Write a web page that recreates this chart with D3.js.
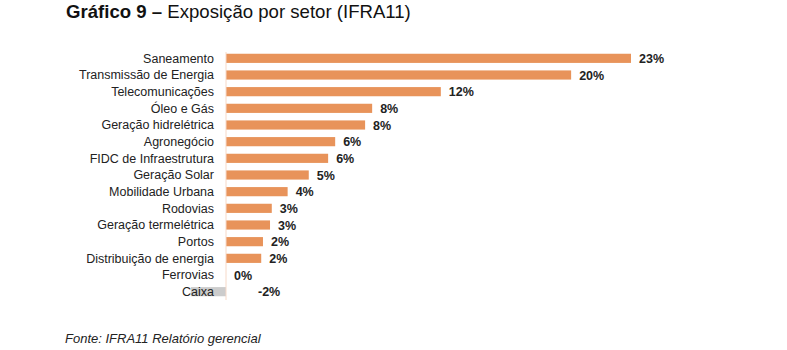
<!DOCTYPE html>
<html>
<head>
<meta charset="utf-8">
<script src="https://cdn.jsdelivr.net/npm/d3@7"></script>
<style>
  body { margin: 0; background: #fff; }
  text { font-family: "Liberation Sans", Arial, sans-serif; }
</style>
</head>
<body>
<div id="container"></div>
<script>
let w = 787;
let h = 350;

// DATA
let sectors = ["Saneamento", "Transmissão de Energia", "Telecomunicações", "Óleo e Gás",
  "Geração hidrelétrica", "Agronegócio", "FIDC de Infraestrutura", "Geração Solar",
  "Mobilidade Urbana", "Rodovias", "Geração termelétrica", "Portos",
  "Distribuição de energia", "Ferrovias", "Caixa"];
let shares = [23.0, 19.6, 12.2, 8.3, 7.9, 6.2, 5.8, 4.7, 3.5, 2.6, 2.5, 2.1, 2.0, 0.0, -2.0];
let shareLabels = ["23%", "20%", "12%", "8%", "8%", "6%", "6%", "5%", "4%", "3%", "3%", "2%", "2%", "0%", "-2%"];

let rows = sectors.map(function(s, i){
  return {sector: s, value: shares[i], label: shareLabels[i]};
});

// SVG
let viz = d3.select("#container").append("svg")
    .attr("width", w)
    .attr("height", h)
;

// title
let title = viz.append("text")
    .attr("x", 66)
    .attr("y", 18)
    .style("font-size", "18.6px")
    .attr("fill", "#111");
title.append("tspan").attr("font-weight", "bold").text("Gráfico 9 – ");
title.append("tspan").text("Exposição por setor (IFRA11)");

// SCALES
let xScale = d3.scaleLinear().domain([0, 23]).range([226, 631]);
let yScale = d3.scaleBand().domain(sectors).range([50, 300]).paddingInner(0.45).paddingOuter(0.225);

// bars
viz.selectAll(".bar").data(rows).enter()
  .append("rect")
    .attr("class", "bar")
    .attr("x", function(d){ return xScale(Math.min(0, d.value)); })
    .attr("y", function(d){ return yScale(d.sector); })
    .attr("width", function(d){ return Math.abs(xScale(d.value) - xScale(0)); })
    .attr("height", yScale.bandwidth())
    .attr("fill", function(d){ return d.value < 0 ? "#cccccc" : "#e8935a"; })
;

// zero line
viz.append("line")
    .attr("x1", xScale(0)).attr("x2", xScale(0))
    .attr("y1", 52).attr("y2", 300)
    .attr("stroke", "#f6d9c8")
    .attr("stroke-width", 1)
;

// category labels
viz.selectAll(".cat").data(rows).enter()
  .append("text")
    .attr("class", "cat")
    .attr("x", 214)
    .attr("y", function(d){ return yScale(d.sector) + yScale.bandwidth()/2; })
    .attr("dy", "0.35em")
    .attr("text-anchor", "end")
    .style("font-size", "12.5px")
    .attr("fill", "#222")
    .text(function(d){ return d.sector; })
;

// value labels
viz.selectAll(".val").data(rows).enter()
  .append("text")
    .attr("class", "val")
    .attr("x", function(d){
      // negative label sits right of zero, like the original
      return d.value < 0 ? xScale(0) + 32 : xScale(d.value) + 8;
    })
    .attr("y", function(d){ return yScale(d.sector) + yScale.bandwidth()/2; })
    .attr("dy", "0.37em")
    .style("font-size", "12.5px")
    .attr("font-weight", "bold")
    .attr("fill", "#222")
    .text(function(d){ return d.label; })
;

// source
viz.append("text")
    .attr("x", 65)
    .attr("y", 343)
    .style("font-size", "13px")
    .style("font-style", "italic")
    .attr("fill", "#222")
    .text("Fonte: IFRA11 Relatório gerencial")
;
</script>
</body>
</html>
